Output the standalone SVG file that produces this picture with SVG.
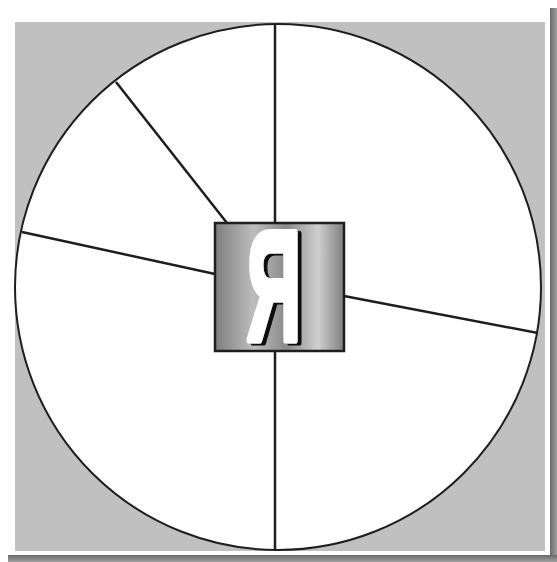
<svg xmlns="http://www.w3.org/2000/svg" width="557" height="562" viewBox="0 0 557 562">
<defs>
<style>
.ln{stroke:#1e1e1e;stroke-width:2.5;fill:none}
</style>
<linearGradient id="sr" x1="0" y1="0" x2="1" y2="0"><stop offset="0" stop-color="#6a6a6a"/><stop offset="1" stop-color="#a0a0a0"/></linearGradient>
<linearGradient id="sb" x1="0" y1="0" x2="0" y2="1"><stop offset="0" stop-color="#6a6a6a"/><stop offset="1" stop-color="#a0a0a0"/></linearGradient>
<linearGradient id="box" x1="0" y1="0" x2="1" y2="0">
<stop offset="0" stop-color="#7e7e7e"/><stop offset="0.3" stop-color="#bdbdbd"/><stop offset="0.55" stop-color="#8a8a8a"/><stop offset="0.8" stop-color="#cfcfcf"/><stop offset="1" stop-color="#7e7e7e"/>
</linearGradient>
<filter id="sh" x="-20%" y="-20%" width="140%" height="140%">
<feFlood flood-color="#111"/>
<feComposite in2="SourceAlpha" operator="in"/>
<feOffset dx="4" dy="2" result="s"/>
<feMerge><feMergeNode in="s"/><feMergeNode in="SourceGraphic"/></feMerge>
</filter>
</defs>
<rect width="557" height="562" fill="#fff"/>
<rect x="550" y="8" width="7" height="554" fill="url(#sr)"/>
<rect x="8" y="555" width="549" height="7" fill="url(#sb)"/>
<rect x="15" y="22" width="530" height="529" fill="#c0c0c0"/>
<g id="circle">
<circle cx="278" cy="287" r="263" fill="#fff" stroke="#1e1e1e" stroke-width="2"/>
</g>
<g id="connectors">
<line class="ln" x1="275" y1="24" x2="275" y2="223"/>
<line class="ln" x1="275" y1="351" x2="275" y2="550"/>
<line class="ln" x1="116" y1="82" x2="227" y2="223"/>
<line class="ln" x1="22" y1="232" x2="215" y2="274"/>
<line class="ln" x1="344" y1="296" x2="538" y2="333"/>
</g>
<g id="center">
<rect x="215" y="223" width="129" height="128" fill="url(#box)" stroke="#1e1e1e" stroke-width="2.5"/>
<g filter="url(#sh)">
<text transform="translate(274,340) scale(0.48,1)" font-family="Liberation Sans, Arial, sans-serif" font-weight="bold" font-size="156" text-anchor="middle" fill="#fff" stroke="#fff" stroke-width="7" stroke-linejoin="round">Я</text>
</g>
</g>
</svg>
